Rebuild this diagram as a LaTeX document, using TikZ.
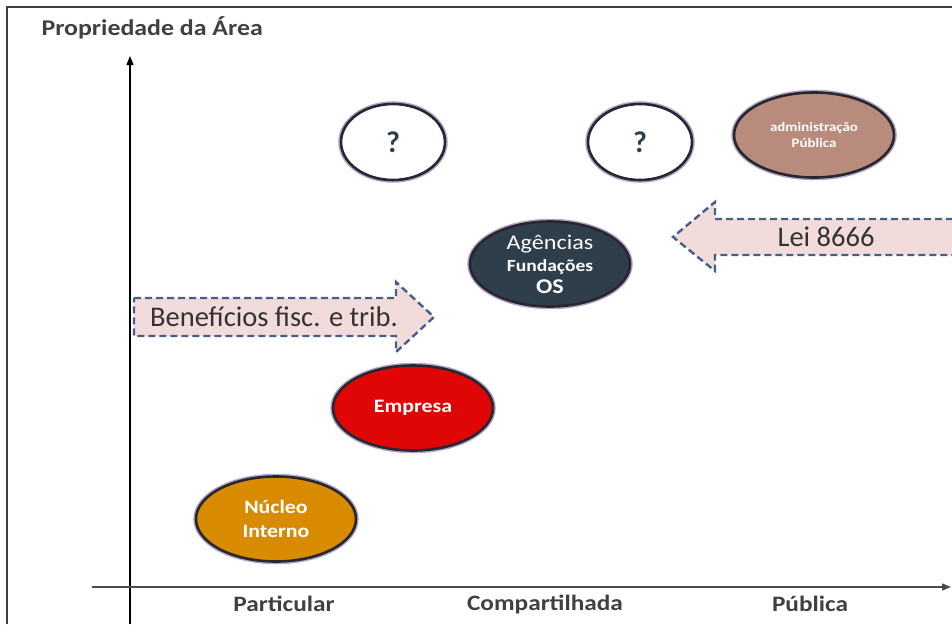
\documentclass[tikz,border=0pt]{standalone}
\usepackage{fontspec}
\setmainfont{Carlito}
\newfontfamily\widefont{Carlito}[FakeStretch=1.15]
\usepackage{xcolor}
\usepackage{tikz}
\usetikzlibrary{shapes.geometric}
\usetikzlibrary{arrows.meta}
\usetikzlibrary{positioning}
\definecolor{ringgray}{RGB}{40,38,48}
\definecolor{glowgray}{RGB}{178,165,195}
\definecolor{arrowpink}{RGB}{242,220,219}
\definecolor{dashblue}{RGB}{68,96,138}
\definecolor{labelgray}{RGB}{64,64,64}
\definecolor{adminbrown}{RGB}{185,139,124}
\definecolor{agslate}{RGB}{46,62,74}
\definecolor{emred}{RGB}{224,6,6}
\definecolor{nucorange}{RGB}{217,139,0}
\tikzset{
    Oval/.style = {ellipse, draw=ringgray, line width=2.6pt, inner sep=0pt, align=center,
        minimum width=160pt, minimum height=85pt, text=white, font=\widefont\bfseries,
        preaction={draw=glowgray, line width=5.5pt}},
    Ovalq/.style = {Oval, fill=white, minimum width=104pt, minimum height=76pt, text=agslate,
        font=\bfseries\fontsize{30}{30}\selectfont},
    axislabel/.style = {text=labelgray, font=\widefont\bfseries\fontsize{22}{24}\selectfont},
    blockarrow/.style = {draw=dashblue, fill=arrowpink, line width=2.4pt, dash pattern=on 7pt off 4pt},
    arrowtext/.style = {text=black!80, font=\fontsize{28.5}{30}\selectfont},
}

\begin{document}
\begin{tikzpicture}[x=1pt, y=-1pt]
\useasboundingbox (0,0) rectangle (952,624);
% frame and axes
\draw[labelgray, line width=2pt] (7,624) -- (7,7) -- (952,7);
\coordinate (ybot) at (130,624);
\coordinate (ytop) at (130,56);
\coordinate (xleft) at (92,587);
\coordinate (xright) at (951,587);
\draw[black, line width=1.4pt, -{Triangle[length=9pt,width=7pt]}] (ybot) -- (ytop);
\draw[black!70, line width=1.4pt, -{Triangle[length=9pt,width=7pt]}] (xleft) -- (xright);
\node[axislabel, anchor=west, font=\widefont\bfseries\fontsize{22.5}{24}\selectfont] at (38,28) (title) {Propriedade da Área};
\node[axislabel] at (284,604) (part) {Particular};
\node[axislabel] at (545,604) (comp) {Compartilhada};
\node[axislabel] at (810,604) (pub) {Pública};
%
\draw[blockarrow] (134,298) -- (396,298) -- (396,282) -- (434,317) -- (396,352) -- (396,336) -- (134,336) -- cycle;
\node[arrowtext] at (274,317) (benef) {Benefícios fisc. e trib.};
\draw[blockarrow] (975,219) -- (715,219) -- (715,202) -- (673,237) -- (715,271) -- (715,255) -- (975,255) -- cycle;
\node[arrowtext] at (826,237) (lei) {Lei 8666};
%
\node[Ovalq] at (393,142) (q1) {?};
\node[Ovalq] at (640,142) (q2) {?};
\node[Oval, fill=adminbrown, font=\widefont\bfseries\fontsize{13}{16}\selectfont] at (814,135) (adm) {administração\\Pública};
\node[Oval, fill=agslate, font=\widefont\fontsize{21}{22}\selectfont] at (550,264) (ag)
    {Agências\\{\bfseries\fontsize{17}{23}\selectfont Fundações}\\{\bfseries OS}};
\node[Oval, fill=emred, font=\widefont\bfseries\fontsize{19}{21}\selectfont] at (413,408) (emp) {Empresa};
\node[Oval, fill=nucorange, font=\widefont\bfseries\fontsize{19}{24}\selectfont] at (276,519) (nuc) {Núcleo\\Interno};
\end{tikzpicture}
\end{document}
